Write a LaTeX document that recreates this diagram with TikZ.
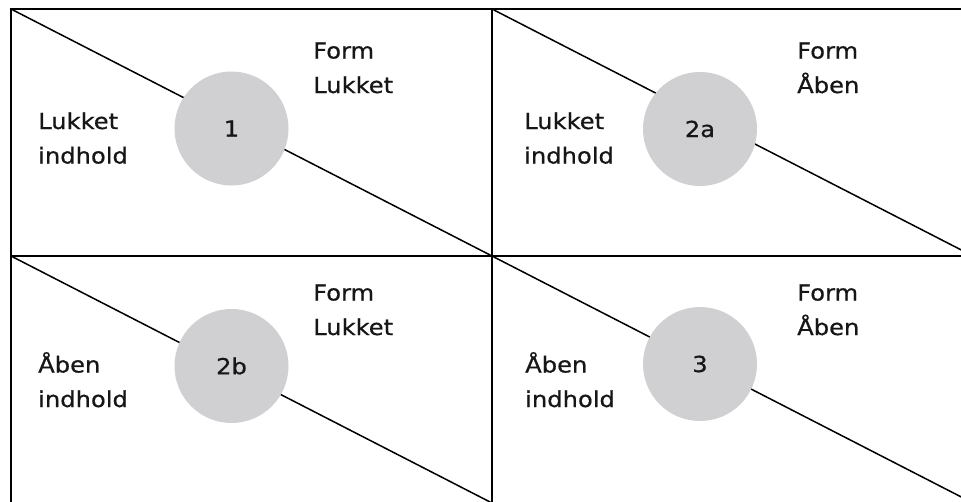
\documentclass[tikz,border=0pt]{standalone}
\usepackage{fontspec}
\newfontfamily\diafont[FakeStretch=1.1,FakeBold=0.6]{DejaVu Sans}
\definecolor{circgray}{HTML}{D0D0D3}
\definecolor{txt}{HTML}{161616}
\tikzset{
  frame/.style={line width=2pt, black},
  diag/.style={line width=1.5pt, black},
  numcirc/.style={circle, fill=circgray, minimum size=114pt, inner sep=0pt,
                  font=\diafont\fontsize{22}{22}\selectfont, text=txt},
  lbl/.style={anchor=base west, align=left, inner sep=0pt, text=txt,
              font=\diafont\fontsize{22}{34.5}\selectfont},
}
\begin{document}
\begin{tikzpicture}[x=1pt, y=-1pt]
\useasboundingbox (0,0) rectangle (961,501);
\clip (0,0) rectangle (961,501);
% grid corners
\coordinate (tl) at (11,9);
\coordinate (tm) at (492,9);
\coordinate (tr) at (973,9);
\coordinate (ml) at (11,256);
\coordinate (mm) at (492,256);
\coordinate (mr) at (973,256);
\coordinate (bl) at (11,503);
\coordinate (bm) at (492,503);
\coordinate (br) at (973,503);
% diagonals
\draw[diag] (tl) -- (mm);
\draw[diag] (tm) -- (mr);
\draw[diag] (ml) -- (bm);
\draw[diag] (mm) -- (br);
% frame
\draw[frame] (bl) -- (tl) -- (tr);
\draw[frame] (ml) -- (mr);
\draw[frame] (tm) -- (bm);
% circles
\node[numcirc] (c1)  at (231.5,128.5) {1};
\node[numcirc] (c2a) at (700,129) {2a};
\node[numcirc] (c2b) at (231.5,366) {2b};
\node[numcirc] (c3)  at (700,364) {3};
% labels (anchor = baseline of last line)
\node[lbl] (l1)  at (38,163.5)  {Lukket\\indhold};
\node[lbl] (r1)  at (313,93)  {Form\\Lukket};
\node[lbl] (l2a) at (524,163.5) {Lukket\\indhold};
\node[lbl] (r2a) at (797,93)  {Form\\Åben};
\node[lbl] (l2b) at (38,407)  {Åben\\indhold};
\node[lbl] (r2b) at (313,335) {Form\\Lukket};
\node[lbl] (l3)  at (525,407) {Åben\\indhold};
\node[lbl] (r3)  at (797,335) {Form\\Åben};
\end{tikzpicture}
\end{document}
